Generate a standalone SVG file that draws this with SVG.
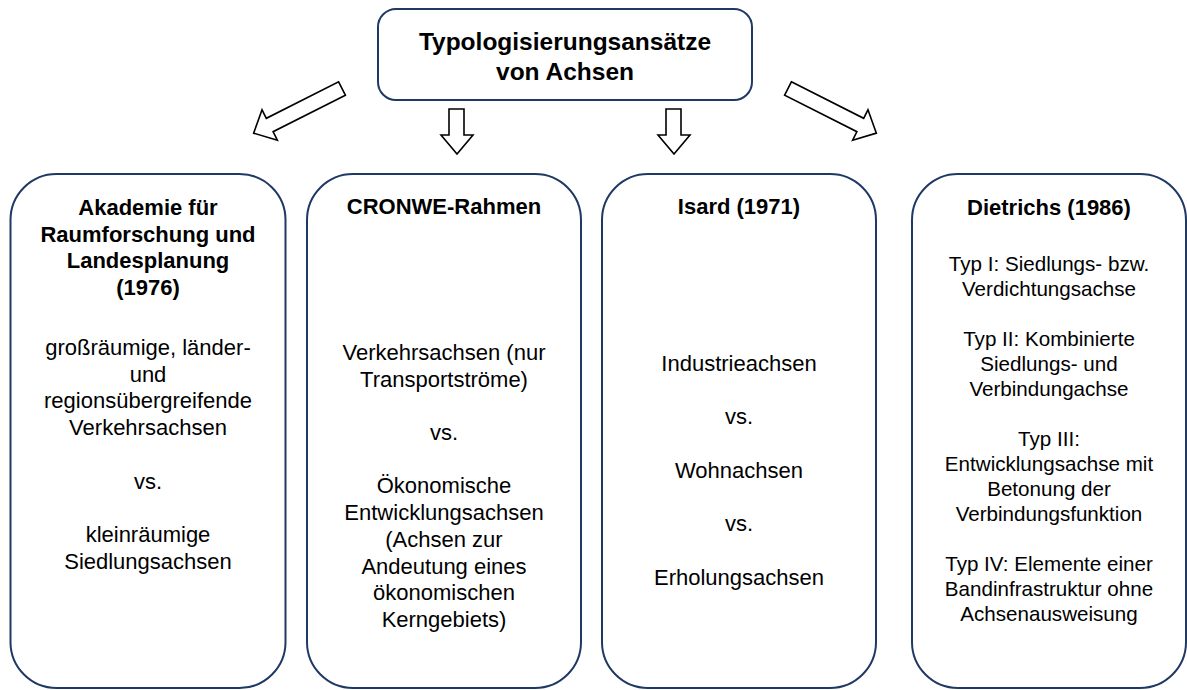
<svg xmlns="http://www.w3.org/2000/svg" width="1187" height="690" viewBox="0 0 1187 690">
<style>
.box{fill:#ffffff;stroke:#1f3864;stroke-width:2}
.arr{fill:#ffffff;stroke:#000000;stroke-width:1.6;stroke-linejoin:miter}
.t{font-family:"Liberation Sans",Arial,sans-serif;fill:#000000;text-anchor:middle}
.title{font-size:24.5px;font-weight:bold}
.h{font-size:22px;font-weight:bold}
.b{font-size:22px}
.b4{font-size:20.6px}
</style>
<defs>
<polygon id="blk" points="0,-7.5 81,-7.5 81,-17 99,0 81,17 81,7.5 0,7.5"/>
</defs>
<rect x="0" y="0" width="1187" height="690" fill="#ffffff"/>
<g id="root">
<rect class="box" x="378" y="9" width="374" height="91" rx="18"/>
<text class="t title" x="565" y="50">Typologisierungsansätze</text>
<text class="t title" x="565" y="80">von Achsen</text>
</g>
<g id="connectors">
<use href="#blk" class="arr" transform="translate(342,88.5) rotate(153.2)"/>
<use href="#blk" class="arr" transform="translate(788,88.5) rotate(26.8)"/>
<polygon class="arr" points="449,109 464,109 464,135 473,135 457,154 441,135 449,135"/>
<polygon class="arr" points="666,109 681,109 681,135 690,135 674,154 658,135 666,135"/>
</g>
<g id="akademie">
<rect class="box" x="10.5" y="174" width="275" height="514" rx="46"/>
<text class="t h" x="148" y="215">Akademie für</text>
<text class="t h" x="148" y="241.7">Raumforschung und</text>
<text class="t h" x="148" y="268.4">Landesplanung</text>
<text class="t h" x="148" y="295">(1976)</text>
<text class="t b" x="148" y="355">großräumige, länder-</text>
<text class="t b" x="148" y="381.7">und</text>
<text class="t b" x="148" y="408.4">regionsübergreifende</text>
<text class="t b" x="148" y="435.1">Verkehrsachsen</text>
<text class="t b" x="148" y="488.5">vs.</text>
<text class="t b" x="148" y="541.9">kleinräumige</text>
<text class="t b" x="148" y="568.6">Siedlungsachsen</text>
</g>
<g id="cronwe">
<rect class="box" x="307" y="174" width="274" height="514" rx="46"/>
<text class="t h" x="444" y="214">CRONWE-Rahmen</text>
<text class="t b" x="444" y="360">Verkehrsachsen (nur</text>
<text class="t b" x="444" y="386.7">Transportströme)</text>
<text class="t b" x="444" y="440">vs.</text>
<text class="t b" x="444" y="493.4">Ökonomische</text>
<text class="t b" x="444" y="520.1">Entwicklungsachsen</text>
<text class="t b" x="444" y="546.8">(Achsen zur</text>
<text class="t b" x="444" y="573.5">Andeutung eines</text>
<text class="t b" x="444" y="600.2">ökonomischen</text>
<text class="t b" x="444" y="626.9">Kerngebiets)</text>
</g>
<g id="isard">
<rect class="box" x="602" y="174" width="274" height="514" rx="46"/>
<text class="t h" x="739" y="214">Isard (1971)</text>
<text class="t b" x="739" y="371">Industrieachsen</text>
<text class="t b" x="739" y="424.4">vs.</text>
<text class="t b" x="739" y="477.8">Wohnachsen</text>
<text class="t b" x="739" y="531.2">vs.</text>
<text class="t b" x="739" y="584.6">Erholungsachsen</text>
</g>
<g id="dietrichs">
<rect class="box" x="912" y="174" width="274" height="514" rx="46"/>
<text class="t h" x="1049" y="215">Dietrichs (1986)</text>
<text class="t b4" x="1049" y="271">Typ I: Siedlungs- bzw.</text>
<text class="t b4" x="1049" y="296">Verdichtungsachse</text>
<text class="t b4" x="1049" y="346">Typ II: Kombinierte</text>
<text class="t b4" x="1049" y="371">Siedlungs- und</text>
<text class="t b4" x="1049" y="396">Verbindungachse</text>
<text class="t b4" x="1049" y="446">Typ III:</text>
<text class="t b4" x="1049" y="471">Entwicklungsachse mit</text>
<text class="t b4" x="1049" y="496">Betonung der</text>
<text class="t b4" x="1049" y="521">Verbindungsfunktion</text>
<text class="t b4" x="1049" y="571">Typ IV: Elemente einer</text>
<text class="t b4" x="1049" y="596">Bandinfrastruktur ohne</text>
<text class="t b4" x="1049" y="621">Achsenausweisung</text>
</g>
</svg>
